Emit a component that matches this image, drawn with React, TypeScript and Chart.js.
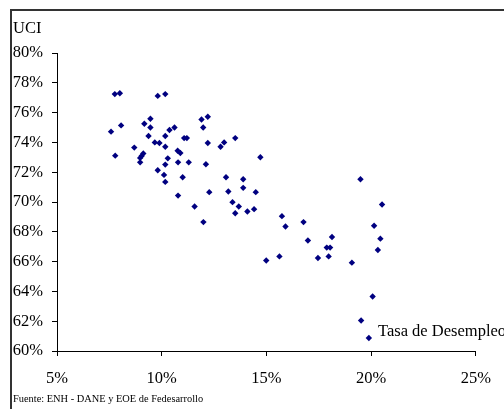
import React, { useEffect, useRef } from "react";
import { Chart, registerables } from "chart.js";

Chart.register(...registerables);

// Tasa de desempleo (%) — eje X
const unemploymentRate = [
  7.76, 8.0, 9.81, 10.17, 9.46, 8.06, 9.17, 9.46, 7.58, 11.9,
  12.2, 11.98, 10.61, 10.37, 9.37, 10.17, 9.67, 9.89, 11.07, 11.2,
  12.2, 12.98, 12.81, 8.69, 10.17, 7.78, 9.12, 9.04, 8.97, 10.76,
  10.89, 10.29, 8.97, 10.78, 11.29, 10.17, 12.11, 9.81, 10.11, 11.0,
  13.07, 10.17, 10.78, 12.27, 13.51, 14.71, 13.89, 13.89, 13.18, 14.49,
  11.57, 13.38, 13.68, 13.51, 14.09, 14.41, 11.99, 15.74, 15.91, 16.77,
  16.98, 14.99, 15.62, 19.49, 20.52, 20.14, 18.13, 20.44, 20.32, 17.88,
  18.04, 17.97, 17.46, 19.08, 20.07, 19.52, 19.89,
];

// UCI (%) — eje Y
const capacityUtilization = [
  77.24, 77.3, 77.12, 77.24, 75.59, 75.14, 75.25, 75.0, 74.72, 75.54,
  75.72, 75.0, 75.0, 74.83, 74.43, 74.43, 74.0, 73.96, 74.29, 74.29,
  73.96, 74.0, 73.71, 73.65, 73.71, 73.11, 73.26, 73.09, 72.96, 73.44,
  73.29, 72.93, 72.66, 72.66, 72.66, 72.51, 72.53, 72.13, 71.82, 71.66,
  71.66, 71.35, 70.43, 70.66, 74.29, 73.0, 71.53, 70.95, 70.7, 70.66,
  69.7, 69.99, 69.7, 69.25, 69.36, 69.52, 68.65, 69.05, 68.36, 68.65,
  67.42, 66.07, 66.35, 71.53, 69.83, 68.41, 67.65, 67.54, 66.78, 66.94,
  66.94, 66.35, 66.24, 65.93, 63.66, 62.05, 60.87,
];

const xTickValues = [5, 10, 15, 20, 25];
const yTickValues = [60, 62, 64, 66, 68, 70, 72, 74, 76, 78, 80];

const yAxisTitle = "UCI";
const xAxisTitle = "Tasa de Desempleo";
const sourceNote = "Fuente: ENH - DANE y EOE de Fedesarrollo";

const SERIF = '"Liberation Serif", "Times New Roman", serif';

export default function App() {
  const canvasRef = useRef<HTMLCanvasElement | null>(null);

  useEffect(() => {
    const canvas = canvasRef.current;
    if (!canvas) return;
    const points = unemploymentRate.map((x, i) => ({ x, y: capacityUtilization[i] }));
    const chart = new Chart(canvas, {
      type: "scatter",
      data: {
        datasets: [
          {
            data: points,
            pointStyle: "rectRot",
            pointRadius: 3.2,
            pointBackgroundColor: "#000080",
            pointBorderColor: "#000080",
            pointBorderWidth: 0,
          },
        ],
      },
      options: {
        responsive: false,
        animation: false,
        devicePixelRatio: 1,
        layout: { padding: { left: 0, top: 53, right: 20, bottom: 0 } },
        plugins: {
          legend: { display: false },
          tooltip: { enabled: false },
          title: { display: false },
        },
        scales: {
          x: {
            type: "linear",
            min: xTickValues[0],
            max: xTickValues[xTickValues.length - 1],
            afterBuildTicks: (scale: any) => {
              scale.ticks = xTickValues.map((v) => ({ value: v }));
            },
            afterFit: (scale: any) => {
              scale.height = 58;
            },
            grid: {
              drawOnChartArea: false,
              drawTicks: true,
              tickLength: 5,
              color: "#000",
            },
            border: { display: true, color: "#000", width: 1 },
            ticks: {
              padding: 13,
              color: "#000",
              font: { family: SERIF, size: 16.5 },
              maxRotation: 0,
              callback: (v: any) => `${v}%`,
            },
          },
          y: {
            type: "linear",
            min: yTickValues[0],
            max: yTickValues[yTickValues.length - 1],
            afterBuildTicks: (scale: any) => {
              scale.ticks = yTickValues.map((v) => ({ value: v }));
            },
            afterFit: (scale: any) => {
              scale.width = 57;
            },
            grid: {
              drawOnChartArea: false,
              drawTicks: true,
              tickLength: 5,
              color: "#000",
            },
            border: { display: true, color: "#000", width: 1 },
            ticks: {
              padding: 9,
              color: "#000",
              font: { family: SERIF, size: 16.5 },
              callback: (v: any) => `${v}%`,
            },
          },
        },
      },
    });
    return () => chart.destroy();
  }, []);

  const textStyle = (left: number, top: number, size: number): React.CSSProperties => ({
    position: "absolute",
    left,
    top,
    fontFamily: SERIF,
    fontSize: size,
    lineHeight: `${size}px`,
    whiteSpace: "nowrap",
    color: "#000",
    margin: 0,
  });

  return (
    <div
      style={{
        position: "fixed",
        left: 0,
        top: 0,
        width: 504,
        height: 409,
        overflow: "hidden",
        background: "#fff",
      }}
    >
      <div
        style={{
          position: "absolute",
          left: 10,
          top: 9,
          width: 600,
          height: 600,
          border: "2px solid #333",
          boxSizing: "border-box",
        }}
      />
      <canvas
        ref={canvasRef}
        width={504}
        height={409}
        style={{ position: "absolute", left: 0, top: 0, width: 504, height: 409, display: "block" }}
      />
      <div style={textStyle(13, 19.5, 16.5)}>{yAxisTitle}</div>
      <div style={textStyle(378, 323, 16.5)}>{xAxisTitle}</div>
      <div style={textStyle(13, 394, 10.4)}>{sourceNote}</div>
    </div>
  );
}
